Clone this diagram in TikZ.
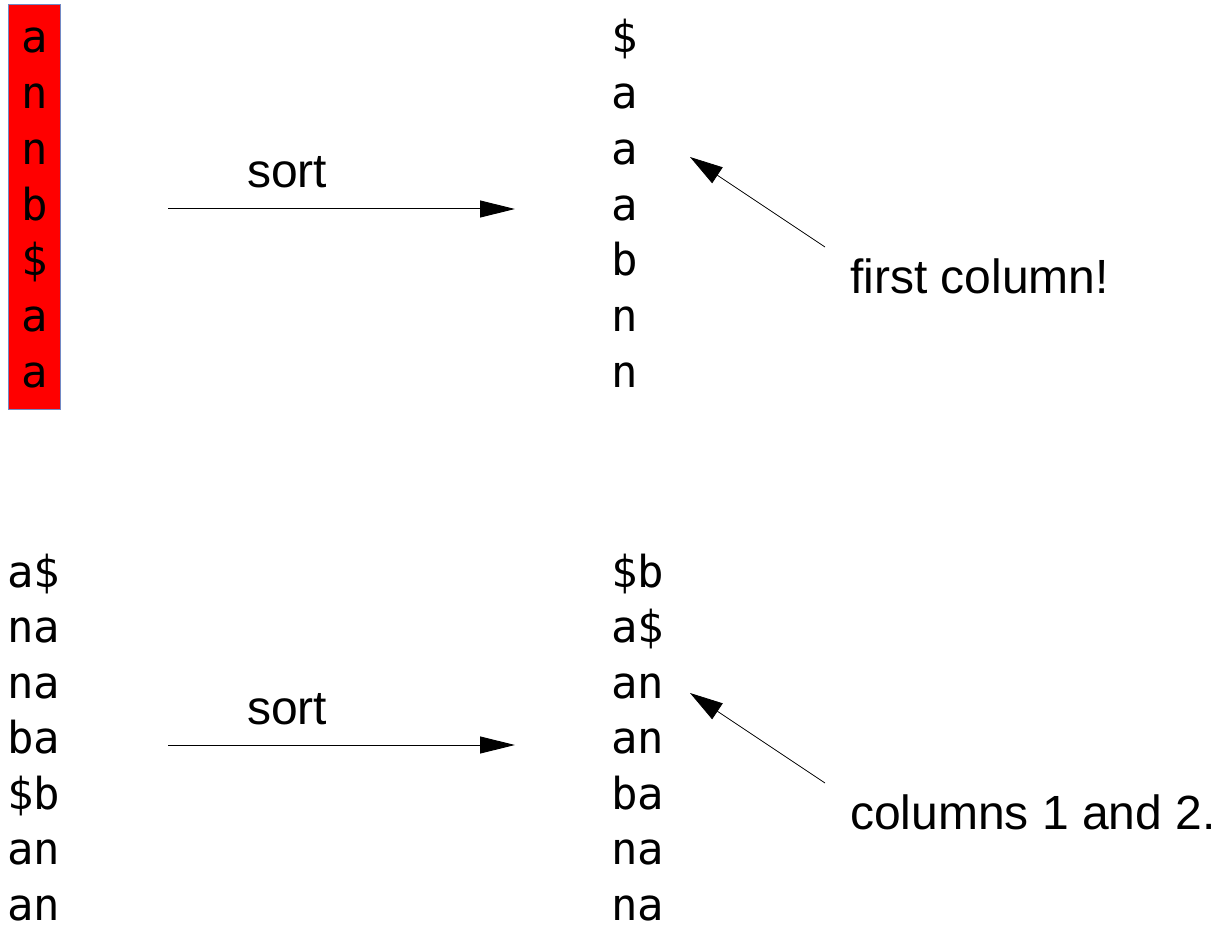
\documentclass[tikz,border=0pt]{standalone}
\usepackage{fontspec}
\setmainfont{Liberation Sans}
\newfontfamily\codefont{DejaVu Sans Mono}
\usetikzlibrary{arrows.meta}
\definecolor{boxred}{RGB}{255,0,0}
\definecolor{boxedge}{RGB}{114,137,196}
\begin{document}
\begin{tikzpicture}[x=1pt,y=-1pt,
  chr/.style={inner sep=0pt,font=\codefont\fontsize{44}{44}\selectfont},
  lbl/.style={inner sep=0pt,anchor=base west,font=\fontsize{48}{48}\selectfont},
  flow/.style={line width=1pt,-{Triangle[length=35pt,width=17pt]}},
  pointer/.style={line width=0.8pt,-{Triangle[length=33pt,width=19pt]}}]
\useasboundingbox (0,0) rectangle (1221,928);

% the input column, highlighted
\node[fill=boxred,draw=boxedge,line width=1pt,minimum width=52pt,minimum height=404pt,inner sep=0pt] (box) at (34,207) {};
\foreach \c [count=\i] in {a,n,n,b,\$,a,a}
  \node[chr,anchor=base] (l\i) at (35,{53+55.7*(\i-1)}) {\c};

% sorted first column
\foreach \c [count=\i] in {\$,a,a,a,b,n,n}
  \node[chr,anchor=base west] (r\i) at (611,{53+55.7*(\i-1)}) {\c};

\coordinate (s1) at (168,209);
\coordinate (e1) at (515,209);
\draw[flow] (s1) -- (e1);
\node[lbl] (sort1) at (247,188) {sort};

\node[lbl] (note1) at (850,293) {first column!};
\coordinate (p1) at (825,247);
\coordinate (t1) at (690,157);
\draw[pointer] (p1) -- (t1);

% two-character prefixes
\foreach \c [count=\i] in {a\$,na,na,ba,\$b,an,an}
  \node[chr,anchor=base west] (m\i) at (7,{587+55.5*(\i-1)}) {\c};
\foreach \c [count=\i] in {\$b,a\$,an,an,ba,na,na}
  \node[chr,anchor=base west] (q\i) at (611,{587+55.5*(\i-1)}) {\c};

\coordinate (s2) at (168,745);
\coordinate (e2) at (515,745);
\draw[flow] (s2) -- (e2);
\node[lbl] (sort2) at (247,724) {sort};

\node[lbl] (note2) at (850,829) {columns 1 and 2.};
\coordinate (p2) at (825,783);
\coordinate (t2) at (690,693);
\draw[pointer] (p2) -- (t2);
\end{tikzpicture}
\end{document}
